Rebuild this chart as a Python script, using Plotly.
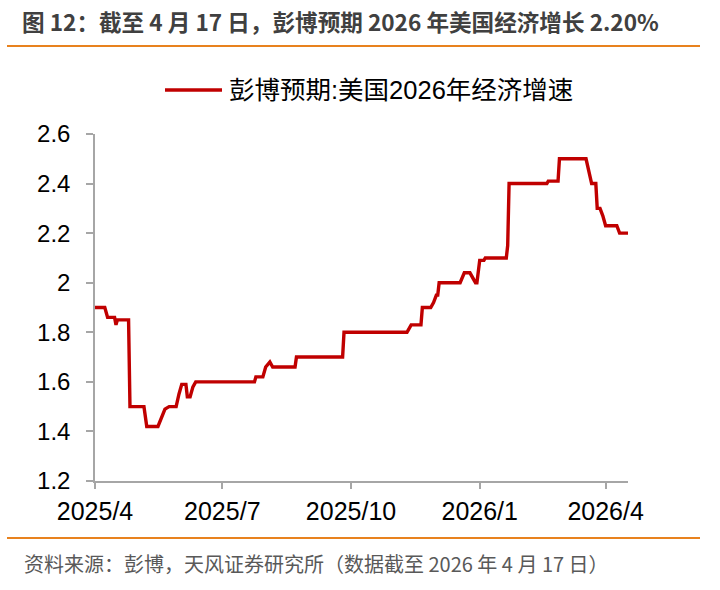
import plotly.graph_objects as go

# Data
dates = [
    "2025-04-01", "2025-04-08", "2025-04-10", "2025-04-15", "2025-04-16", "2025-04-17",
    "2025-04-25", "2025-04-26", "2025-05-06", "2025-05-08", "2025-05-16", "2025-05-19",
    "2025-05-21", "2025-05-24", "2025-05-29", "2025-05-31", "2025-06-02", "2025-06-05",
    "2025-06-06", "2025-06-08", "2025-06-10", "2025-06-12", "2025-07-24", "2025-07-25",
    "2025-07-30", "2025-08-01", "2025-08-04", "2025-08-06", "2025-08-22", "2025-08-23",
    "2025-09-25", "2025-09-26", "2025-11-10", "2025-11-11", "2025-11-13", "2025-11-20",
    "2025-11-21", "2025-11-27", "2025-11-29", "2025-12-01", "2025-12-02", "2025-12-03",
    "2025-12-18", "2025-12-21", "2025-12-25", "2025-12-29", "2025-12-30", "2026-01-01",
    "2026-01-04", "2026-01-05", "2026-01-20", "2026-01-21", "2026-01-22", "2026-02-18",
    "2026-02-19", "2026-02-26", "2026-02-27", "2026-03-18", "2026-03-22", "2026-03-25",
    "2026-03-26", "2026-03-28", "2026-03-30", "2026-04-01", "2026-04-09", "2026-04-11",
    "2026-04-17",
]
values = [
    1.90, 1.90, 1.86, 1.86, 1.83, 1.85,
    1.85, 1.50, 1.50, 1.42, 1.42, 1.46,
    1.49, 1.50, 1.50, 1.55, 1.59, 1.59,
    1.54, 1.54, 1.58, 1.60, 1.60, 1.62,
    1.62, 1.66, 1.68, 1.66, 1.66, 1.70,
    1.70, 1.80, 1.80, 1.81, 1.83, 1.83,
    1.90, 1.90, 1.92, 1.95, 1.95, 2.00,
    2.00, 2.04, 2.04, 2.00, 2.00, 2.09,
    2.09, 2.10, 2.10, 2.15, 2.40, 2.40,
    2.41, 2.41, 2.50, 2.50, 2.40, 2.40,
    2.30, 2.30, 2.27, 2.23, 2.23, 2.20,
    2.20,
]
series_name = "彭博预期:美国2026年经济增速"
x_tick_vals = ["2025-04-01", "2025-07-01", "2025-10-01", "2026-01-01", "2026-04-01"]
x_tick_text = ["2025/4", "2025/7", "2025/10", "2026/1", "2026/4"]
y_tick_vals = [1.2, 1.4, 1.6, 1.8, 2.0, 2.2, 2.4, 2.6]
y_tick_text = ["1.2", "1.4", "1.6", "1.8", "2", "2.2", "2.4", "2.6"]

title_text = "图 12：截至 4 月 17 日，彭博预期 2026 年美国经济增长 2.20%"
source_text = "资料来源：彭博，天风证券研究所（数据截至 2026 年 4 月 17 日）"

FONT = "Liberation Sans, Arial, Noto Sans CJK SC, sans-serif"
CJK = "Noto Sans CJK SC, Liberation Sans, sans-serif"
NARROW = "Liberation Sans Narrow, Arial Narrow, Noto Sans CJK SC, sans-serif"
ORANGE = "#E8821E"
AXIS = "#A6A6A6"
RED = "#C00000"

# plot area in pixels
L, R, T, B = 95, 628, 134, 481
W, H = 720, 590
def px(x):
    return (x - L) / (R - L)
def py(y):
    return (B - y) / (B - T)

fig = go.Figure()
fig.add_trace(go.Scatter(
    x=dates, y=values, mode="lines", name=series_name,
    line=dict(color=RED, width=3.4),
    showlegend=False,
))

fig.update_layout(
    width=W, height=H, autosize=False,
    margin=dict(l=L, r=W - R, t=T, b=H - B, pad=0),
    paper_bgcolor="white", plot_bgcolor="white",
    font=dict(family=FONT, color="black"),
    showlegend=False,
    xaxis=dict(
        type="date",
        range=["2025-04-01", "2026-04-17"],
        tickmode="array", tickvals=x_tick_vals, ticktext=x_tick_text,
        showgrid=False, zeroline=False,
        showline=True, linecolor=AXIS, linewidth=1.5,
        ticks="outside", ticklen=6, tickwidth=1.5, tickcolor=AXIS,
        tickfont=dict(family=FONT, size=25, color="black"),
        ticklabelstandoff=1,
    ),
    yaxis=dict(
        range=[1.2, 2.6],
        tickmode="array", tickvals=y_tick_vals, ticktext=y_tick_text,
        showgrid=False, zeroline=False,
        showline=True, linecolor=AXIS, linewidth=1.5,
        ticks="outside", ticklen=7, tickwidth=1.5, tickcolor=AXIS,
        tickfont=dict(family=FONT, size=24, color="black"),
        ticklabelstandoff=11,
    ),
)

# header / footer rules
fig.add_shape(type="line", xref="paper", yref="paper",
              x0=px(7), x1=px(700), y0=py(46), y1=py(46),
              line=dict(color=ORANGE, width=2))
fig.add_shape(type="line", xref="paper", yref="paper",
              x0=px(7), x1=px(700), y0=py(538), y1=py(538),
              line=dict(color=ORANGE, width=2))

# legend (drawn manually to match the long legend line)
fig.add_shape(type="line", xref="paper", yref="paper",
              x0=px(165), x1=px(222), y0=py(90), y1=py(90),
              line=dict(color=RED, width=3.4))
fig.add_annotation(xref="paper", yref="paper", x=px(227), y=py(90),
                   xanchor="left", yanchor="middle", showarrow=False,
                   text=series_name,
                   font=dict(family=FONT, size=25.5, color="black"))

fig.add_annotation(xref="paper", yref="paper", x=px(20), y=py(22),
                   xanchor="left", yanchor="middle", showarrow=False,
                   text="<b>" + title_text + "</b>",
                   font=dict(family=NARROW, size=22.6, color="#404040"))
fig.add_annotation(xref="paper", yref="paper", x=px(22), y=py(563),
                   xanchor="left", yanchor="middle", showarrow=False,
                   text=source_text,
                   font=dict(family=CJK, size=20, color="#595959"))

fig.write_html("out.html", config={"displayModeBar": False},
               post_script="document.body.style.margin='0px';")
